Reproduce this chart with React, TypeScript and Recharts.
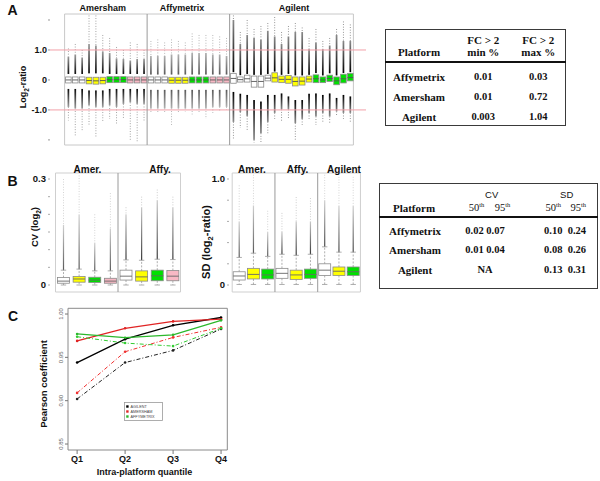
import React from 'react';
import {
  ComposedChart, Bar, XAxis, YAxis, ReferenceLine, ReferenceArea,
  LineChart, Line, Legend,
} from 'recharts';

const SANS = '"Liberation Sans", Arial, Helvetica, sans-serif';
const SERIF = '"Liberation Serif", "Times New Roman", Times, serif';

// ================= Panel A data (log2-ratio boxplots) =================
const platformNamesA = ['Amersham', 'Affymetrix', 'Agilent'];
const platformA = [
  0, 0, 0, 0, 0, 0, 0, 0, 0, 0, 0, 0,
  1, 1, 1, 1, 1, 1, 1, 1, 1, 1, 1, 1,
  2, 2, 2, 2, 2, 2, 2, 2, 2, 2, 2, 2, 2, 2, 2, 2, 2, 2,
];
const kindA = [
  'W', 'W', 'W', 'Y', 'Y', 'Y', 'G', 'G', 'G', 'P', 'P', 'P',
  'W', 'W', 'W', 'Y', 'Y', 'Y', 'G', 'G', 'G', 'P', 'P', 'P',
  'W', 'W', 'W', 'W', 'W', 'W', 'Y', 'Y', 'Y', 'Y', 'Y', 'Y', 'G', 'G', 'G', 'G', 'G', 'G',
];
const q3A = [
  0.1, 0.1, 0.1, 0.09, 0.09, 0.09, 0.11, 0.11, 0.11, 0.1, 0.1, 0.1,
  0.1, 0.1, 0.1, 0.09, 0.09, 0.09, 0.1, 0.1, 0.1, 0.1, 0.1, 0.1,
  0.22, 0.1, 0.16, 0.13, 0.13, 0.16, 0.24, 0.13, 0.15, 0.1, 0.1, 0.13, 0.17, 0.1, 0.16, 0.1, 0.19, 0.22,
];
const medA = [
  0, 0, 0, -0.02, -0.03, -0.02, 0.01, 0.01, 0.01, 0, 0, 0,
  0, 0, 0, -0.01, -0.01, -0.01, 0, 0, 0, 0, 0, 0,
  0.05, 0.01, 0.04, -0.05, -0.05, 0.06, 0.07, 0.02, 0.02, -0.05, -0.04, 0.03, 0.04, 0, 0.05, -0.03, 0.04, 0.08,
];
const q1A = [
  -0.1, -0.1, -0.1, -0.13, -0.14, -0.13, -0.09, -0.09, -0.09, -0.1, -0.1, -0.1,
  -0.1, -0.1, -0.1, -0.11, -0.11, -0.11, -0.1, -0.1, -0.1, -0.1, -0.1, -0.1,
  -0.11, -0.07, -0.07, -0.24, -0.24, -0.03, -0.07, -0.09, -0.11, -0.2, -0.17, -0.07, -0.09, -0.09, -0.05, -0.16, -0.1, -0.03,
];
const wHiA = [
  0.2, 0.2, 0.2, 0.22, 0.22, 0.22, 0.2, 0.2, 0.2, 0.2, 0.2, 0.2,
  0.18, 0.18, 0.18, 0.18, 0.18, 0.18, 0.18, 0.18, 0.18, 0.18, 0.18, 0.18,
  0.26, 0.16, 0.2, 0.17, 0.17, 0.2, 0.28, 0.17, 0.2, 0.15, 0.15, 0.17, 0.23, 0.15, 0.22, 0.15, 0.23, 0.26,
];
const dHiA = [
  0.78, 0.85, 0.75, 1.2, 1.15, 0.95, 0.9, 0.72, 0.7, 0.65, 0.7, 0.7,
  0.8, 0.8, 0.8, 0.85, 0.85, 0.85, 0.9, 0.9, 0.9, 0.85, 0.85, 0.8,
  2.0, 1.2, 1.5, 1.4, 1.35, 1.64, 1.45, 1.2, 1.45, 1.6, 1.6, 1.03, 1.25, 1.03, 1.15, 1.5, 1.3, 1.3,
];
const oHiA = [
  1.05, 1.2, 1.0, 2.15, 2.15, 1.5, 1.4, 1.1, 1.0, 1.25, 1.2, 1.0,
  1.3, 1.35, 1.25, 1.35, 1.3, 1.25, 1.55, 1.5, 1.5, 1.5, 1.45, 1.4,
  2.15, 1.6, 2.0, 1.7, 1.8, 1.9, 2.1, 1.6, 1.8, 1.9, 1.75, 1.4, 1.7, 1.3, 1.4, 1.7, 1.95, 1.85,
];
const wLoA = [
  -0.3, -0.3, -0.3, -0.35, -0.35, -0.35, -0.3, -0.3, -0.3, -0.3, -0.3, -0.3,
  -0.33, -0.33, -0.33, -0.33, -0.33, -0.33, -0.33, -0.33, -0.33, -0.33, -0.33, -0.33,
  -0.4, -0.46, -0.5, -0.67, -0.72, -0.5, -0.5, -0.45, -0.55, -0.67, -0.67, -0.46, -0.45, -0.5, -0.45, -0.6, -0.5, -0.55,
];
const dLoA = [
  -0.9, -0.95, -0.95, -0.85, -0.9, -0.9, -0.85, -0.9, -0.8, -0.75, -0.8, -0.8,
  -0.95, -0.95, -0.95, -0.95, -0.95, -0.95, -0.95, -0.95, -0.95, -0.9, -0.9, -0.9,
  -1.4, -1.07, -1.2, -2.0, -1.78, -1.4, -1.1, -0.98, -0.98, -1.44, -1.3, -1.1, -1.22, -1.1, -1.22, -1.05, -1.1, -1.1,
];
const oLoA = [
  -1.35, -1.9, -1.7, -1.5, -1.9, -1.4, -1.3, -1.5, -1.3, -2.05, -2.05, -1.4,
  -1.1, -1.1, -1.1, -1.5, -1.1, -1.05, -1.15, -1.1, -1.3, -1.1, -1.05, -1.0,
  -2.0, -1.6, -1.7, -2.1, -2.1, -1.8, -1.3, -1.4, -1.3, -2.0, -1.5, -1.3, -1.5, -1.4, -1.45, -1.2, -1.3, -1.4,
];
const yTicksA = [-2, -1, 0, 1, 2];
const yTickLabelsA = ['', '-1.0', '0', '1.0', ''];
const fcLinesA = [1, -1];
const groupStartsA = ['12', '24'];

// ================= Panel B data (CV and SD boxplots) =================
const groupNamesCV = ['Amer.', 'Affy.'];
const kindCV = ['W', 'Y', 'G', 'P', 'W', 'Y', 'G', 'P'];
const platformCV = [0, 0, 0, 0, 1, 1, 1, 1];
const q1CV = [0.005, 0.008, 0.007, 0.005, 0.014, 0.011, 0.012, 0.012];
const medCV = [0.011, 0.017, 0.014, 0.011, 0.025, 0.023, 0.026, 0.025];
const q3CV = [0.021, 0.024, 0.022, 0.019, 0.042, 0.04, 0.042, 0.041];
const wHiCV = [0.042, 0.045, 0.04, 0.04, 0.071, 0.07, 0.073, 0.072];
const dHiCV = [0.17, 0.2, 0.12, 0.16, 0.2, 0.22, 0.24, 0.22];
const oHiCV = [0.3, 0.31, 0.2, 0.26, 0.22, 0.25, 0.27, 0.25];
const wLoCV = [0.0, 0.0, 0.0, 0.0, 0.0, 0.0, 0.0, 0.0];
const yTicksCV = [0, 0.05, 0.1, 0.15, 0.2, 0.25, 0.3];
const yTickLabelsCV = ['0', '', '', '', '', '', '0.3'];
const groupStartsCV = ['4'];

const groupNamesSD = ['Amer.', 'Affy.', 'Agilent'];
const kindSD = ['W', 'Y', 'G', 'W', 'Y', 'G', 'W', 'Y', 'G'];
const platformSD = [0, 0, 0, 1, 1, 1, 2, 2, 2];
const q1SD = [0.047, 0.057, 0.057, 0.063, 0.053, 0.063, 0.09, 0.09, 0.09];
const medSD = [0.085, 0.1, 0.095, 0.11, 0.095, 0.1, 0.14, 0.13, 0.125];
const q3SD = [0.125, 0.157, 0.15, 0.157, 0.14, 0.15, 0.2, 0.17, 0.17];
const wHiSD = [0.26, 0.3, 0.27, 0.29, 0.28, 0.29, 0.36, 0.31, 0.31];
const dHiSD = [0.6, 0.75, 0.5, 0.5, 0.6, 0.6, 0.8, 0.75, 0.75];
const oHiSD = [0.94, 1.04, 0.7, 0.68, 0.83, 0.82, 1.04, 1.02, 1.02];
const wLoSD = [0.005, 0.005, 0.005, 0.005, 0.005, 0.005, 0.005, 0.005, 0.005];
const yTicksSD = [0, 0.2, 0.4, 0.6, 0.8, 1.0];
const yTickLabelsSD = ['0', '', '', '', '', '1.0'];
const groupStartsSD = ['3', '6'];

// ================= Panel C data (Pearson coefficients) =================
const quantileLabels = ['Q1', 'Q2', 'Q3', 'Q4'];
const agilentSolid = [0.944, 0.971, 0.987, 0.996];
const amershamSolid = [0.969, 0.9835, 0.9915, 0.994];
const affySolid = [0.977, 0.9727, 0.976, 0.9927];
const agilentDash = [0.902, 0.944, 0.958, 0.9827];
const amershamDash = [0.909, 0.9565, 0.973, 0.9846];
const affyDash = [0.9738, 0.9665, 0.963, 0.9835];
const yTicksC = [0.85, 0.9, 0.95, 1.0];
const yTickLabelsC = ['0.85', '0.90', '0.95', '1.00'];

// ================= Tables =================
const tablePlatforms = ['Affymetrix', 'Amersham', 'Agilent'];
const fcMin = ['0.01', '0.01', '0.003'];
const fcMax = ['0.03', '0.72', '1.04'];
const cv50 = ['0.02', '0.01', ''];
const cv95 = ['0.07', '0.04', ''];
const cvNA = ['', '', 'NA'];
const sd50 = ['0.10', '0.08', '0.13'];
const sd95 = ['0.24', '0.26', '0.31'];

// ================= Styles =================
const boxFill: Record<string, string> = { W: '#ffffff', Y: '#ffff00', G: '#00e000', P: '#f8b8c4' };
const inksA = [['#0a0a0a', '#9a9a9a'], ['#5a5a5a', '#b0b0b0'], ['#000000', '#8a8a8a']];
const inksB = [['#5a5a5a', '#d0d0d0'], ['#3a3a3a', '#c8c8c8'], ['#4a4a4a', '#d0d0d0']];

function buildRows(kinds: string[], plats: number[], q1: number[], med: number[], q3: number[],
  wHi: number[], dHi: number[], oHi: number[], wLo: number[], dLo: number[], oLo: number[]) {
  return kinds.map((k, i) => ({
    i: String(i), k, p: plats[i], q1: q1[i], med: med[i], q3: q3[i],
    wHi: wHi[i], dHi: dHi[i], oHi: oHi[i], wLo: wLo[i], dLo: dLo[i], oLo: oLo[i],
  }));
}

const rowsA = buildRows(kindA, platformA, q1A, medA, q3A, wHiA, dHiA, oHiA, wLoA, dLoA, oLoA);
const rowsCV = buildRows(kindCV, platformCV, q1CV, medCV, q3CV, wHiCV, dHiCV, oHiCV, wLoCV, wLoCV, wLoCV);
const rowsSD = buildRows(kindSD, platformSD, q1SD, medSD, q3SD, wHiSD, dHiSD, oHiSD, wLoSD, wLoSD, wLoSD);

const dataC = quantileLabels.map((q, i) => ({
  x: i + 1,
  agS: agilentSolid[i], amS: amershamSolid[i], afS: affySolid[i],
  agD: agilentDash[i], amD: amershamDash[i], afD: affyDash[i],
}));

const rangeKey = (d: any) => [d.oLo, d.oHi];

type BoxCfg = { key: string; inks: string[][]; strandW: number; caps: boolean; medColor: string; stroke: string; };

function makeBoxShape(cfg: BoxCfg) {
  return (props: any) => {
    const { x, y, width, height, payload, index } = props;
    const d = payload;
    if (!d || !isFinite(y) || !isFinite(height)) return <g />;
    const top = Math.min(y, y + height);
    const h = Math.abs(height);
    const span = d.oHi - d.oLo;
    const py = (v: number) => top + (h * (d.oHi - v)) / span;
    const cx = x + width / 2;
    const [dark, light] = cfg.inks[d.p];
    const gid = `${cfg.key}-${index}`;
    const sw = cfg.strandW;
    const yQ3 = py(d.q3);
    const yQ1 = py(d.q1);
    const capW = width * 0.45;
    return (
      <g>
        <defs>
          <linearGradient id={`${gid}u`} x1="0" y1="1" x2="0" y2="0">
            <stop offset="0" stopColor={dark} />
            <stop offset="1" stopColor={light} />
          </linearGradient>
          <linearGradient id={`${gid}d`} x1="0" y1="0" x2="0" y2="1">
            <stop offset="0" stopColor={dark} />
            <stop offset="1" stopColor={light} />
          </linearGradient>
        </defs>
        {d.oHi > d.dHi && (
          <line x1={cx} x2={cx} y1={py(d.oHi)} y2={py(d.dHi)} stroke={light} strokeWidth={1} strokeDasharray="0.9 1.7" />
        )}
        {d.dHi > d.wHi && (
          <rect x={cx - sw / 2} y={py(d.dHi)} width={sw} height={py(d.wHi) - py(d.dHi)} fill={`url(#${gid}u)`} />
        )}
        {d.wLo > d.dLo && (
          <rect x={cx - sw / 2} y={py(d.wLo)} width={sw} height={py(d.dLo) - py(d.wLo)} fill={`url(#${gid}d)`} />
        )}
        {d.dLo > d.oLo && (
          <line x1={cx} x2={cx} y1={py(d.dLo)} y2={py(d.oLo)} stroke={light} strokeWidth={1} strokeDasharray="0.9 1.7" />
        )}
        {cfg.caps && (
          <g stroke="#9a9a9a" strokeWidth={0.8}>
            <line x1={cx} x2={cx} y1={yQ3} y2={py(d.wHi)} strokeDasharray="2 1.5" />
            <line x1={cx - capW / 2} x2={cx + capW / 2} y1={py(d.wHi)} y2={py(d.wHi)} />
            <line x1={cx} x2={cx} y1={yQ1} y2={py(d.wLo)} strokeDasharray="2 1.5" />
            <line x1={cx - capW / 2} x2={cx + capW / 2} y1={py(d.wLo)} y2={py(d.wLo)} />
          </g>
        )}
        <rect x={x} y={yQ3} width={width} height={Math.max(0.5, yQ1 - yQ3)} fill={boxFill[d.k]} stroke={cfg.stroke} strokeWidth={0.8} />
        <line x1={x} x2={x + width} y1={py(d.med)} y2={py(d.med)} stroke={cfg.medColor} strokeWidth={0.9} />
      </g>
    );
  };
}

const shapeA = makeBoxShape({ key: 'bxA', inks: inksA, strandW: 1.7, caps: false, medColor: '#555', stroke: '#8a8a8a' });
const shapeCV = makeBoxShape({ key: 'bxCV', inks: inksB, strandW: 1.2, caps: true, medColor: '#666', stroke: '#8a8a8a' });
const shapeSD = makeBoxShape({ key: 'bxSD', inks: inksB, strandW: 1.2, caps: true, medColor: '#666', stroke: '#8a8a8a' });

// ---------- text helpers ----------
function T(props: { x: number; y: number; children: React.ReactNode; size?: number; bold?: boolean; font?: string; rotate?: boolean; color?: string }) {
  const { x, y, children, size = 9, bold = true, font = SANS, rotate = false, color = '#111' } = props;
  return (
    <div
      style={{
        position: 'absolute', left: x, top: y,
        transform: `translate(-50%, -50%)${rotate ? ' rotate(-90deg)' : ''}`,
        whiteSpace: 'pre', fontFamily: font, fontSize: size,
        fontWeight: bold ? 700 : 400, color, lineHeight: 1,
      }}
    >
      {children}
    </div>
  );
}

const tickStyleA = { fontSize: 9, fontWeight: 700, fill: '#111', fontFamily: SANS };

function PanelA() {
  const domA: [number, number] = [-2.17, 2.2];
  return (
    <div style={{ position: 'absolute', left: 0, top: 0 }}>
      <ComposedChart width={370} height={150} data={rowsA} margin={{ top: 14, right: 4, bottom: 5, left: 20 }}>
        <XAxis dataKey="i" type="category" hide padding={{ left: 14.6, right: 12.6 }} />
        <YAxis
          width={30} domain={domA} allowDataOverflow ticks={yTicksA} interval={0}
          tickFormatter={(v: number) => yTickLabelsA[yTicksA.indexOf(v)] ?? ''}
          axisLine={false} tickLine={{ stroke: '#999' }} tickSize={2} tickMargin={1} tick={tickStyleA}
        />
        <ReferenceArea y1={domA[0]} y2={domA[1]} fill="none" stroke="#c8c8c8" strokeWidth={1} ifOverflow="visible" />
        {fcLinesA.map((v) => (
          <ReferenceLine key={v} y={v} stroke="#f2a0a8" strokeWidth={1} />
        ))}
        {groupStartsA.map((c) => (
          <ReferenceLine key={c} x={c} position="start" stroke="#9a9a9a" strokeWidth={1} />
        ))}
        <Bar dataKey={rangeKey} barSize={5.6} shape={shapeA} isAnimationActive={false} />
      </ComposedChart>
    </div>
  );
}

function PanelCV() {
  const dom: [number, number] = [-0.0198, 0.317];
  return (
    <div style={{ position: 'absolute', left: 0, top: 160 }}>
      <ComposedChart width={185} height={135} data={rowsCV} margin={{ top: 13, right: 3, bottom: 3, left: 20 }}>
        <XAxis dataKey="i" type="category" hide padding={{ left: 5.5, right: 1.5 }} />
        <YAxis
          width={30} domain={dom} allowDataOverflow ticks={yTicksCV} interval={0}
          tickFormatter={(v: number) => yTickLabelsCV[yTicksCV.indexOf(v)] ?? ''}
          axisLine={false} tickLine={{ stroke: '#aaa' }} tickSize={2} tickMargin={2} tick={{ ...tickStyleA, fontSize: 9.5 }}
        />
        <ReferenceArea y1={dom[0]} y2={dom[1]} fill="none" stroke="#cfcfcf" strokeWidth={1} ifOverflow="visible" />
        {groupStartsCV.map((c) => (
          <ReferenceLine key={c} x={c} position="start" stroke="#9a9a9a" strokeWidth={1} />
        ))}
        <Bar dataKey={rangeKey} barSize={12} shape={shapeCV} isAnimationActive={false} />
      </ComposedChart>
    </div>
  );
}

function PanelSD() {
  const dom: [number, number] = [-0.066, 1.0566];
  return (
    <div style={{ position: 'absolute', left: 180, top: 160 }}>
      <ComposedChart width={190} height={135} data={rowsSD} margin={{ top: 13, right: 3.3, bottom: 3, left: 19 }}>
        <XAxis dataKey="i" type="category" hide padding={{ left: 3.2, right: 6.25 }} />
        <YAxis
          width={30} domain={dom} allowDataOverflow ticks={yTicksSD} interval={0}
          tickFormatter={(v: number) => yTickLabelsSD[yTicksSD.indexOf(v)] ?? ''}
          axisLine={false} tickLine={{ stroke: '#aaa' }} tickSize={2} tickMargin={2} tick={{ ...tickStyleA, fontSize: 9.5 }}
        />
        <ReferenceArea y1={dom[0]} y2={dom[1]} fill="none" stroke="#cfcfcf" strokeWidth={1} ifOverflow="visible" />
        {groupStartsSD.map((c) => (
          <ReferenceLine key={c} x={c} position="start" stroke="#9a9a9a" strokeWidth={1} />
        ))}
        <Bar dataKey={rangeKey} barSize={12} shape={shapeSD} isAnimationActive={false} />
      </ComposedChart>
    </div>
  );
}

function RotTickC(props: any) {
  const { x, y, payload } = props;
  const i = yTicksC.findIndex((t) => Math.abs(t - payload.value) < 1e-9);
  const bx = x - 1;
  return (
    <text x={bx} y={y} transform={`rotate(-90 ${bx} ${y})`} textAnchor="middle" fontSize={6} fill="#666" fontFamily={SANS}>
      {i >= 0 ? yTickLabelsC[i] : ''}
    </text>
  );
}

const seriesC = [
  { key: 'agS', name: 'AGILENT', color: '#000000', dash: undefined as string | undefined, legend: true },
  { key: 'amS', name: 'AMERSHAM', color: '#e02424', dash: undefined, legend: true },
  { key: 'afS', name: 'AFFYMETRIX', color: '#2cb82c', dash: undefined, legend: true },
  { key: 'agD', name: 'AGILENT dash', color: '#222222', dash: '4 2 1 2', legend: false },
  { key: 'amD', name: 'AMERSHAM dash', color: '#f03030', dash: '4 2 1 2', legend: false },
  { key: 'afD', name: 'AFFYMETRIX dash', color: '#33cc33', dash: '4 2 1 2', legend: false },
];

function LegendC() {
  const items = seriesC.filter((s) => s.legend);
  return (
    <svg width={39} height={19} style={{ display: 'block' }}>
      <rect x={0.5} y={0.5} width={38} height={18} fill="#fff" stroke="#999" strokeWidth={0.8} />
      {items.map((s, i) => (
        <g key={s.key}>
          <rect x={2.2} y={4.5 + i * 5 - 1.2} width={2.4} height={2.4} fill={s.color} />
          <text x={6.5} y={4.5 + i * 5 + 1.3} fontSize={3.8} fill="#444" fontFamily={SANS}>{s.name}</text>
        </g>
      ))}
    </svg>
  );
}

function PanelC() {
  const dom: [number, number] = [0.8431, 1.0066];
  const xDom: [number, number] = [0.81, 4.13];
  return (
    <div style={{ position: 'absolute', left: 0, top: 300 }}>
      <LineChart width={240} height={181} data={dataC} margin={{ top: 8.3, right: 12.7, bottom: 11, left: 38 }}>
        <XAxis
          dataKey="x" type="number" domain={xDom} allowDataOverflow ticks={[1, 2, 3, 4]} interval={0}
          tickFormatter={(v: number) => quantileLabels[v - 1] ?? ''}
          axisLine={false} tickLine={{ stroke: '#777' }} tickSize={4} tickMargin={2} height={20}
          tick={{ fontSize: 9, fontWeight: 700, fill: '#111', fontFamily: SANS }}
        />
        <YAxis
          width={30} domain={dom} allowDataOverflow ticks={yTicksC} interval={0}
          axisLine={false} tickLine={{ stroke: '#777' }} tickSize={3} tickMargin={1} tick={<RotTickC />}
        />
        <ReferenceArea y1={dom[0]} y2={dom[1]} fill="none" stroke="#8a8a8a" strokeWidth={1} ifOverflow="visible" />
        {seriesC.map((s) => (
          <Line
            key={s.key} dataKey={s.key} name={s.name} stroke={s.color}
            strokeWidth={s.dash ? 1 : 1.3} strokeDasharray={s.dash}
            dot={{ r: 1.3, fill: s.color, stroke: 'none' }}
            legendType={s.legend ? 'square' : 'none'}
            isAnimationActive={false}
          />
        ))}
        <Legend
          layout="vertical" align="center" verticalAlign="middle"
          wrapperStyle={{ left: 124.3, top: 101.7, width: 39, height: 19 }}
          content={() => <LegendC />}
        />
      </LineChart>
    </div>
  );
}

function Tables() {
  const border = '1.3px solid #3a3a3a';
  const rowY1 = [77.3, 97.3, 116.7];
  const rowY2 = [230.7, 250, 270];
  const tf = { font: SERIF, size: 11, bold: true };
  const nf = { font: SERIF, size: 10.5, bold: true };
  return (
    <>
      {/* Table 1 */}
      <div style={{ position: 'absolute', left: 385, top: 29, width: 181, height: 97, border, boxSizing: 'border-box' }} />
      <div style={{ position: 'absolute', left: 385, top: 61.3, width: 181, height: 2, background: '#111' }} />
      <T x={419} y={52.3} {...tf}>Platform</T>
      <T x={483.3} y={40} {...tf}>FC &gt; 2</T>
      <T x={483.3} y={52.3} {...tf}>min %</T>
      <T x={538.3} y={40} {...tf}>FC &gt; 2</T>
      <T x={538.3} y={52.3} {...tf}>max %</T>
      {tablePlatforms.map((p, i) => (
        <React.Fragment key={p}>
          <T x={419} y={rowY1[i]} {...tf}>{p}</T>
          <T x={483.3} y={rowY1[i]} {...nf}>{fcMin[i]}</T>
          <T x={538.3} y={rowY1[i]} {...nf}>{fcMax[i]}</T>
        </React.Fragment>
      ))}

      {/* Table 2 */}
      <div style={{ position: 'absolute', left: 379, top: 183, width: 219, height: 105.5, border, boxSizing: 'border-box' }} />
      <div style={{ position: 'absolute', left: 379, top: 216.3, width: 219, height: 2, background: '#111' }} />
      <T x={491.7} y={195} size={9.5} bold={false}>CV</T>
      <T x={566.7} y={195} size={9.5} bold={false}>SD</T>
      <T x={414} y={208.3} font={SERIF} size={11} bold>Platform</T>
      {[476.5, 502.5, 553.3, 578.3].map((x, j) => (
        <T key={x} x={x} y={208} font={SERIF} size={10.5} bold={false}>
          {j % 2 === 0 ? '50' : '95'}<sup style={{ fontSize: 6.5, verticalAlign: 'top', lineHeight: 1, position: 'relative', top: -1 }}>th</sup>
        </T>
      ))}
      {tablePlatforms.map((p, i) => (
        <React.Fragment key={p}>
          <T x={415} y={rowY2[i]} {...tf}>{p}</T>
          {cv50[i] && <T x={485} y={rowY2[i]} {...nf}>{`${cv50[i]} ${cv95[i]}`}</T>}
          {cvNA[i] && <T x={485} y={rowY2[i]} {...nf}>{cvNA[i]}</T>}
          <T x={565} y={rowY2[i]} {...nf}>{`${sd50[i]}  ${sd95[i]}`}</T>
        </React.Fragment>
      ))}
    </>
  );
}

export default function App() {
  return (
    <div style={{ position: 'absolute', left: 0, top: 0, width: 600, height: 481, background: '#fff', overflow: 'hidden' }}>
      <PanelA />
      <PanelCV />
      <PanelSD />
      <PanelC />
      <Tables />

      {/* Panel letters */}
      <T x={12.5} y={10} size={14}>A</T>
      <T x={12.5} y={181} size={14}>B</T>
      <T x={13} y={316} size={14}>C</T>

      {/* Panel A labels */}
      <T x={102.7} y={7.5}>{platformNamesA[0]}</T>
      <T x={182} y={7.5}>{platformNamesA[1]}</T>
      <T x={294} y={7.5}>{platformNamesA[2]}</T>
      <T x={25} y={87} rotate>Log<sub style={{ fontSize: 6.5 }}>2</sub>-ratio</T>

      {/* Panel B labels */}
      <T x={87.5} y={169.5} size={10}>{groupNamesCV[0]}</T>
      <T x={160} y={169.5} size={10}>{groupNamesCV[1]}</T>
      <T x={252} y={169.5} size={10}>{groupNamesSD[0]}</T>
      <T x={297.5} y={169.5} size={10}>{groupNamesSD[1]}</T>
      <T x={344} y={169.5} size={10}>{groupNamesSD[2]}</T>
      <T x={36} y={226.7} size={9.5} rotate>CV (log<sub style={{ fontSize: 6.5 }}>2</sub>)</T>
      <T x={208} y={241.7} size={11} rotate>SD (log<sub style={{ fontSize: 7.5 }}>2</sub>-ratio)</T>

      {/* Panel C labels */}
      <T x={43.5} y={383.5} size={9.5} rotate>Pearson coefficient</T>
      <T x={144.5} y={472} size={9}>Intra-platform quantile</T>
    </div>
  );
}
